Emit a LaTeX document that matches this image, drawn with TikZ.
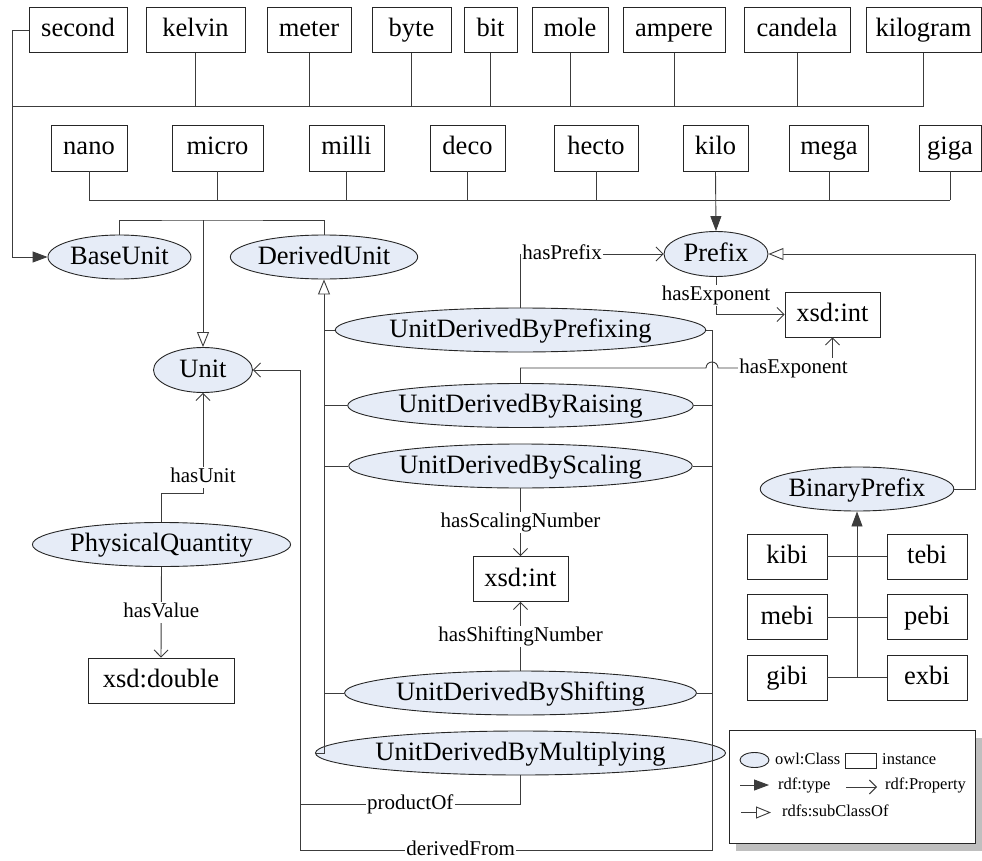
\documentclass[tikz,border=0pt]{standalone}
\usepackage{fontspec}
\setmainfont{Liberation Serif}
\usetikzlibrary{arrows.meta,shapes.geometric,positioning,shadows}

\definecolor{clsfill}{RGB}{230,236,247}
\definecolor{lincol}{RGB}{60,60,60}

\begin{document}
\begin{tikzpicture}[
    x=1pt, y=1pt,
    font=\fontsize{26.5pt}{30pt}\selectfont,
    cls/.style={ellipse, draw=black!85, fill=clsfill, line width=0.9pt, inner sep=0pt, minimum height=44pt,
                text height=18pt, text depth=4pt},
    ins/.style={rectangle, draw=black!85, line width=0.9pt, inner sep=0pt, minimum height=45pt,
                text height=18pt, text depth=4pt},
    lbl/.style={fill=white, inner sep=1.5pt, text height=14pt, text depth=4pt,
                font=\fontsize{21pt}{24pt}\selectfont},
    lnk/.style={draw=lincol, line width=0.9pt},
    typ/.style={lnk, -{Triangle[length=15pt, width=11pt]}},
    prop/.style={lnk, -{Straight Barb[length=7pt, width=14pt]}},
    sub/.style={lnk, -{Triangle[open, length=15pt, width=12pt, fill=white]}},
    lgd/.style={inner sep=0pt, anchor=west, text height=11pt, text depth=3pt,
                font=\fontsize{16.5pt}{19pt}\selectfont}
  ]
  \useasboundingbox (0,0) rectangle (982,-861);

  % Base units (fila de arriba)
  \node[ins, minimum width=98pt]  (second)   at (78,-30)    {second};
  \node[ins, minimum width=99pt]  (kelvin)   at (195.5,-30) {kelvin};
  \node[ins, minimum width=84pt]  (meter)    at (309,-30)   {meter};
  \node[ins, minimum width=79pt]  (byte)     at (411.5,-30) {byte};
  \node[ins, minimum width=53pt]  (bit)      at (490.5,-30) {bit};
  \node[ins, minimum width=76pt]  (mole)     at (570,-30)   {mole};
  \node[ins, minimum width=102pt] (ampere)   at (674,-30)   {ampere};
  \node[ins, minimum width=106pt] (candela)  at (797,-30)   {candela};
  \node[ins, minimum width=115pt] (kilogram) at (923.5,-30) {kilogram};

  % Prefixes (segunda fila)
  \node[ins, minimum width=76pt, minimum height=46pt] (nano)  at (89,-148)    {nano};
  \node[ins, minimum width=91pt, minimum height=46pt] (micro) at (217.5,-148) {micro};
  \node[ins, minimum width=75pt, minimum height=46pt] (milli) at (346.5,-148) {milli};
  \node[ins, minimum width=75pt, minimum height=46pt] (deco)  at (467.5,-148) {deco};
  \node[ins, minimum width=84pt, minimum height=46pt] (hecto) at (596,-148)   {hecto};
  \node[ins, minimum width=65pt, minimum height=46pt] (kilo)  at (715.5,-148) {kilo};
  \node[ins, minimum width=79pt, minimum height=46pt] (mega)  at (829,-148)   {mega};
  \node[ins, minimum width=62pt, minimum height=46pt] (giga)  at (950,-148)   {giga};

  % Clases (elipses)
  \node[cls, minimum width=143pt] (base)    at (119.5,-257) {BaseUnit};
  \node[cls, minimum width=182pt] (derived) at (324,-257)   {DerivedUnit};
  \node[cls, minimum width=104pt, minimum height=45pt] (prefix) at (716,-254) {Prefix};
  \node[cls, minimum width=99pt, minimum height=45pt]  (unit)   at (203,-370) {Unit};
  \node[cls, minimum width=333pt] (pref) at (520.5,-330)   {UnitDerivedByPrefixing};
  \node[cls, minimum width=311pt] (rais) at (520.5,-405.5) {UnitDerivedByRaising};
  \node[cls, minimum width=311pt] (scal) at (520.5,-466)   {UnitDerivedByScaling};
  \node[cls, minimum width=317pt] (shif) at (520.5,-693)   {UnitDerivedByShifting};
  \node[cls, minimum width=365pt] (mult) at (520.5,-753)   {UnitDerivedByMultiplying};
  \node[cls, minimum width=243pt] (pq)   at (161.5,-544.5) {PhysicalQuantity};
  \node[cls, minimum width=190pt] (binpre) at (857,-489)   {BinaryPrefix};

  % Tipos de datos
  \node[ins, minimum width=95pt]  (intA) at (832.5,-314.5) {xsd:int};
  \node[ins, minimum width=95pt]  (intB) at (520.5,-579)   {xsd:int};
  \node[ins, minimum width=146pt] (dbl)  at (161,-680.5)   {xsd:double};

  % Binary prefixes (abajo a la derecha)
  \node[ins, minimum width=80pt] (kibi) at (787,-556.5) {kibi};
  \node[ins, minimum width=80pt] (tebi) at (927,-556.5) {tebi};
  \node[ins, minimum width=80pt] (mebi) at (787,-617)   {mebi};
  \node[ins, minimum width=80pt] (pebi) at (927,-617)   {pebi};
  \node[ins, minimum width=80pt] (gibi) at (787,-677.5) {gibi};
  \node[ins, minimum width=80pt] (exbi) at (927,-677.5) {exbi};

  % rdf:type hacia BaseUnit
  \coordinate (tl) at (12,-30);
  \coordinate (busA) at (12,-106);
  \draw[typ] (second.west) -- (tl) |- (base.west);
  \draw[lnk] (busA) -- (kilogram.south |- busA);
  \foreach \n in {kelvin,meter,byte,bit,mole,ampere,candela,kilogram}
    \draw[lnk] (\n.south) -- (\n.south |- busA);

  % rdf:type hacia Prefix
  \coordinate (busB) at (89,-200);
  \draw[lnk] (nano.south |- busB) -- (giga.south |- busB);
  \foreach \n in {nano,micro,milli,deco,hecto,mega,giga}
    \draw[lnk] (\n.south) -- (\n.south |- busB);
  \draw[typ] (kilo.south) -- (prefix.north);

  % subClassOf
  \coordinate (sc) at (203,-220);
  \draw[lnk] (base.north) |- (sc) -| (derived.north);
  \draw[sub] (sc) -- (unit.north);
  \draw[sub] (mult.west) -| (derived.south);
  \foreach \n in {pref,rais,scal,shif}
    \draw[lnk] (\n.west) -- (\n.west -| derived.south);
  \coordinate (br) at (975,-254);
  \draw[sub] (binpre.east) -| (br) -- (prefix.east);

  % Propiedades
  \draw[prop] (pref.north) |- node[lbl, pos=0.5, anchor=west] {hasPrefix} (prefix.west);
  \draw[prop] (prefix.south) |- node[lbl, pos=0.25] {hasExponent} (intA.west);
  \draw[prop] (rais.north) |- (706,-368) arc[start angle=180, end angle=0, radius=6pt]
    -| node[lbl, pos=0.33] {hasExponent} (intA.south);
  \draw[prop] (scal.south) -- node[lbl] {hasScalingNumber} (intB.north);
  \draw[prop] (shif.north) -- node[lbl] {hasShiftingNumber} (intB.south);
  \coordinate (hu) at (203,-493.5);
  \draw[prop] (pq.north) |- (hu) -- node[lbl, pos=0.16] {hasUnit} (unit.south);
  \draw[prop] (pq.south) -- node[lbl] {hasValue} (dbl.north);

  % derivedFrom / productOf
  \coordinate (dr) at (712,-850);
  \coordinate (dl) at (300,-850);
  \coordinate (pl) at (300,-804);
  \draw[prop] (pref.east) -| (dr) -- node[lbl, pos=0.61] {derivedFrom} (dl) |- (unit.east);
  \foreach \n in {rais,scal,shif}
    \draw[lnk] (\n.east) -- (\n.east -| dr);
  \draw[lnk] (mult.south) |- node[lbl, pos=0.75] {productOf} (pl);

  % Binary prefixes rdf:type
  \draw[lnk] (kibi) -- (tebi);
  \draw[lnk] (mebi) -- (pebi);
  \draw[lnk] (gibi) -- (exbi);
  \draw[typ] (gibi.east -| binpre.south) -- (binpre.south);

  % Leyenda (abajo a la derecha)
  \node[draw=black!85, fill=white, line width=0.9pt, minimum width=246pt, minimum height=113pt,
        drop shadow={shadow xshift=7pt, shadow yshift=-7pt, fill=black!25, opacity=1}] (legend) at (852,-787.3) {};
  \node[cls, minimum width=29pt, minimum height=15pt, text height=0pt, text depth=0pt] (lgcls) at (754.5,-760) {};
  \node[lgd] (lgclstxt) at (775,-760) {owl:Class};
  \node[ins, minimum width=31pt, minimum height=15pt, text height=0pt, text depth=0pt] (lgins) at (861,-760.5) {};
  \node[lgd] (lginstxt) at (882,-760) {instance};
  \coordinate (lt1) at (740,-785);
  \coordinate (lt2) at (769,-785);
  \draw[typ] (lt1) -- (lt2);
  \node[lgd] (lgtyp) at (778,-785) {rdf:type};
  \coordinate (lp1) at (846,-787);
  \coordinate (lp2) at (877,-787);
  \draw[prop] (lp1) -- (lp2);
  \node[lgd] (lgprop) at (885,-785) {rdf:Property};
  \coordinate (ls1) at (741,-812.5);
  \coordinate (ls2) at (771,-812.5);
  \draw[sub] (ls1) -- (ls2);
  \node[lgd] (lgsub) at (782,-812) {rdfs:subClassOf};

\end{tikzpicture}
\end{document}
